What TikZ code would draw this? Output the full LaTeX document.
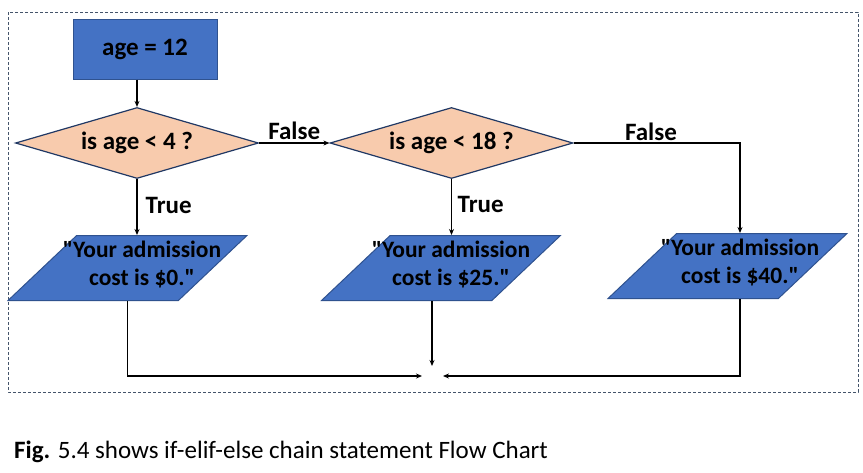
\documentclass[tikz,border=0pt]{standalone}
\usepackage{fontspec}
\setmainfont[Ligatures=TeXOff]{Carlito}
\usetikzlibrary{shapes.geometric,arrows.meta}
\definecolor{boxblue}{HTML}{4472C4}
\definecolor{boxedge}{HTML}{2F528F}
\definecolor{peach}{HTML}{F8CBAD}
\definecolor{navyedge}{HTML}{203864}
\definecolor{framecol}{HTML}{44546A}
\begin{document}
\begin{tikzpicture}[x=1pt,y=-1pt,
  startbox/.style={draw=boxedge, fill=boxblue, line width=1pt, minimum width=144pt, minimum height=60pt, inner sep=0pt, font=\bfseries\fontsize{25}{28}\selectfont},
  decision/.style={diamond, aspect=3.4, draw=navyedge, fill=peach, line width=1.2pt, minimum width=243pt, minimum height=71pt, inner sep=0pt, font=\bfseries\fontsize{25}{28}\selectfont},
  outbox/.style={trapezium, trapezium left angle=56, trapezium right angle=124, trapezium stretches=true, draw=boxedge, fill=boxblue, line width=1pt, minimum width=239pt, minimum height=65pt, inner sep=4pt},
  ptext/.style={align=center, inner sep=0pt, font=\bfseries\fontsize{23.5}{28}\selectfont},
  lab/.style={inner sep=0pt, font=\bfseries\fontsize{25}{28}\selectfont},
  flow/.style={line width=1.4pt, -{Stealth[length=6pt,width=5pt]}}
]
\useasboundingbox (0,0) rectangle (863,472);
\draw[framecol, line width=0.8pt, dash pattern=on 3pt off 2pt] (8,12) rectangle (858,392);

\node[startbox] (start) at (145,49) {age = 12};
\node[decision] (d1) at (137,143) {is age < 4 ?};
\node[decision] (d2) at (451.5,143) {is age < 18 ?};

\node[outbox] (p1) at (127.5,268) {};
\node[ptext] (t1) at (142,265) {"Your admission\\cost is \$0."};
\node[outbox] (p2) at (441,268) {};
\node[ptext] (t2) at (451,265) {"Your admission\\cost is \$25."};
\node[outbox] (p3) at (727.5,266) {};
\node[ptext] (t3) at (740,263) {"Your admission\\cost is \$40."};

\coordinate (merge) at (432,376);

\draw[flow] (d1.north |- start.south) -- (d1.north);
\draw[flow] (d1.east) -- (d2.west) node[lab, midway, anchor=south, yshift=3pt] {False};
\draw[flow] (d1.south) -- (d1.south |- p1.north) node[lab, anchor=base west] at (145,213) {True};
\draw[flow] (d2.south) -- (d2.south |- p2.north) node[lab, anchor=base west] at (457,212) {True};
\draw[flow] (d2.east) -| ([xshift=12.5pt]p3.north) node[lab, anchor=base] at (651,140) {False};

\draw[flow] (p2.south -| merge) -- ([yshift=10pt]merge);
\draw[flow] (p1.south) |- ([xshift=-10pt]merge);
\draw[flow] ([xshift=12.5pt]p3.south) |- ([xshift=11pt]merge);

\node[anchor=base west, inner sep=0pt, font=\fontsize{25}{28}\selectfont] (cap) at (14,458) {\textbf{Fig.} 5.4 shows if-elif-else chain statement Flow Chart};
\end{tikzpicture}
\end{document}
